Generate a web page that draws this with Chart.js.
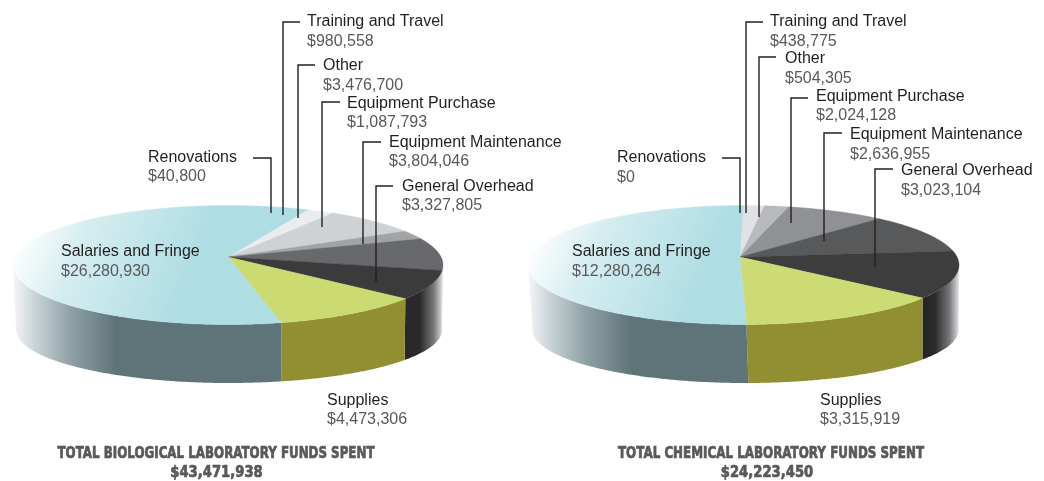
<!DOCTYPE html>
<html><head><meta charset="utf-8">
<script src="https://cdn.jsdelivr.net/npm/chart.js@4"></script>
<style>
html,body{margin:0;padding:0;background:#fff;width:1044px;height:481px;overflow:hidden}
canvas{position:absolute;top:0;left:0}
</style></head><body>
<canvas id="bio" width="1044" height="481"></canvas>
<canvas id="chem" width="1044" height="481"></canvas>
<script>
const categories = ["Renovations","Training and Travel","Other","Equipment Purchase","Equipment Maintenance","General Overhead","Supplies","Salaries and Fringe"];
const biologicalValues = [40800,980558,3476700,1087793,3804046,3327805,4473306,26280930];
const chemicalValues = [0,438775,504305,2024128,2636955,3023104,3315919,12280264];
const biologicalTitle = ["TOTAL BIOLOGICAL LABORATORY FUNDS SPENT","$43,471,938"];
const chemicalTitle = ["TOTAL CHEMICAL LABORATORY FUNDS SPENT","$24,223,450"];
const biologicalTop = ["#e6eef1","#eaecee","#cfd2d5","#a1a3a6","#68696c","#3b3b3c","#ccda72","#aedde4"];
const chemicalTop = ["#e1e2e4","#e1e2e4","#b8babd","#8f9194","#58595b","#3d3d3d","#ccdb74","#aedde4"];

const layoutBio = {
  rotation:25, apex:[228,257], top:[228,265,215,59.5], bottom:[229,330,213,53],
  labels:[[148,158,177],[307,22,42],[323,66,86],[347,104,123],[389,143,162],[402,187,206],[327,401,420],[61,252,272]],
  leaders:[[253,158,271,213],[300,22,283,215],[315,65,298,218],[340,102,322,227],[381,142,363,244],[393,186,376,282]],
  title:[216,454,473,317,216.5], black:[390,420,443]
};
const layoutChem = {
  rotation:1, apex:[740,257], top:[743.5,265,215.5,59.5], bottom:[745.5,330,213,53],
  labels:[[617,158,178],[770,22,42],[785,59,79],[816,97,116],[850,135,155],[901,171,191],[820,401,420],[572,252,272]],
  leaders:[[722,158,740,213],[763,22,746,213],[776,57,759,217],[808,98,791,223],[842,133,824,241],[893,169,875,267]],
  title:[771,454,473,306,767], black:[923,935,959]
};

function money(v){return "$"+v.toLocaleString("en-US");}

function rimT(L,ang){
  const [ax,ay]=L.apex,[ex,ey,a,b]=L.top;
  const dx=a*Math.cos(ang),dy=b*Math.sin(ang);
  const ox=(ax-ex)/a,oy=(ay-ey)/b,px=dx/a,py=dy/b;
  const A=px*px+py*py,B=2*(ox*px+oy*py),C=ox*ox+oy*oy-1;
  const s=(-B+Math.sqrt(B*B-4*A*C))/(2*A);
  return Math.atan2(oy+py*s,ox+px*s);
}

function piePlugin(L,values,colors,title){
  return {
    id:"pie3d",
    beforeDatasetsDraw(chart){
      const ctx=chart.ctx, arcs=chart.getDatasetMeta(0).data;
      const [ex,ey,a,b]=L.top,[bx,by,a2,b2]=L.bottom;
      ctx.save();
      const P=t=>[ex+a*Math.cos(t),ey+b*Math.sin(t)];
      const Q=t=>[bx+a2*Math.cos(t),by+b2*Math.sin(t)];
      const leftX=ex-a;
      const salGrad=ctx.createLinearGradient(leftX+2,0,leftX+103,0);
      salGrad.addColorStop(0,"#f1f3f4");
      salGrad.addColorStop(.2,"#c9d3d7");
      salGrad.addColorStop(.55,"#8fa1a6");
      salGrad.addColorStop(1,"#5f7479");
      const [b0,b1,b2x]=L.black;
      const darkGrad=ctx.createLinearGradient(b0,0,b2x,0);
      const mid=(b1-b0)/(b2x-b0);
      darkGrad.addColorStop(0,"#272425");
      darkGrad.addColorStop(mid,"#2c2a2b");
      darkGrad.addColorStop(mid+(1-mid)*.6,"#77787a");
      darkGrad.addColorStop(1,"#e2e3e5");
      const wall=i=>i===7?salGrad:i===6?"#918f32":darkGrad;
      const TAU=2*Math.PI;
      const span=arc=>{
        let t0=rimT(L,arc.startAngle);
        t0=(t0%TAU+TAU)%TAU;
        let t1=rimT(L,arc.endAngle);
        while(t1<t0)t1+=TAU;
        return [t0,t1];
      };
      // side wall: only the part of each slice on the front half of the rim
      arcs.forEach((arc,i)=>{
        if(values[i]===0) return;
        const [t0,t1]=span(arc);
        [[0,Math.PI],[TAU,TAU+Math.PI]].forEach(([lo,hi])=>{
          const s=Math.max(t0,lo),e=Math.min(t1,hi);
          if(e<=s) return;
          const n=Math.max(2,Math.ceil((e-s)/0.01));
          ctx.beginPath();
          for(let k=0;k<=n;k++){const p=P(s+(e-s)*k/n);k?ctx.lineTo(p[0],p[1]):ctx.moveTo(p[0],p[1]);}
          for(let k=n;k>=0;k--){const p=Q(s+(e-s)*k/n);ctx.lineTo(p[0],p[1]);}
          ctx.closePath();
          ctx.fillStyle=wall(i);ctx.fill();
        });
      });
      // top surface
      const topGrad=ctx.createLinearGradient(leftX+2,242,leftX+165,310);
      topGrad.addColorStop(0,"#ffffff");
      topGrad.addColorStop(.35,"#d5edf0");
      topGrad.addColorStop(1,colors[7]);
      arcs.forEach((arc,i)=>{
        if(values[i]===0) return;
        const [t0,t1]=span(arc);
        const n=Math.max(2,Math.ceil((t1-t0)/0.01));
        ctx.beginPath();
        ctx.moveTo(L.apex[0],L.apex[1]);
        for(let k=0;k<=n;k++){const p=P(t0+(t1-t0)*k/n);ctx.lineTo(p[0],p[1]);}
        ctx.closePath();
        const fill=i===7?topGrad:colors[i];
        ctx.fillStyle=fill;ctx.fill();
        ctx.strokeStyle=fill;ctx.lineWidth=.4;ctx.stroke();
      });
      // leaders
      ctx.strokeStyle="#231f20";ctx.lineWidth=1.4;ctx.lineJoin="miter";
      L.leaders.forEach(l=>{
        ctx.beginPath();ctx.moveTo(l[0],l[1]);ctx.lineTo(l[2],l[1]);ctx.lineTo(l[2],l[3]);ctx.stroke();
      });
      // labels
      ctx.textBaseline="middle";ctx.textAlign="left";
      ctx.font='16px "Liberation Sans", Arial, sans-serif';
      categories.forEach((c,i)=>{
        const l=L.labels[i];
        ctx.fillStyle="#231f20";ctx.fillText(c,l[0],l[1]);
        ctx.fillStyle="#58595b";ctx.fillText(money(values[i]),l[0],l[2]);
      });
      // titles
      ctx.textAlign="center";ctx.fillStyle="#58595b";ctx.strokeStyle="#58595b";ctx.lineWidth=.7;
      ctx.font='bold 15px "DejaVu Sans", sans-serif';
      ctx.fillText(title[0],L.title[0],L.title[1],L.title[3]);
      ctx.strokeText(title[0],L.title[0],L.title[1],L.title[3]);
      ctx.fillText(title[1],L.title[4],L.title[2],title[1].length*8.4);
      ctx.strokeText(title[1],L.title[4],L.title[2],title[1].length*8.4);
      ctx.restore();
      return false;
    }
  };
}

function build(id,L,values,colors,title){
  new Chart(document.getElementById(id),{
    type:"pie",
    data:{labels:categories,datasets:[{data:values,backgroundColor:colors,borderWidth:0}]},
    options:{responsive:false,animation:false,rotation:L.rotation,
      plugins:{legend:{display:false},tooltip:{enabled:false},title:{display:false}}},
    plugins:[piePlugin(L,values,colors,title)]
  });
}
build("bio",layoutBio,biologicalValues,biologicalTop,biologicalTitle);
build("chem",layoutChem,chemicalValues,chemicalTop,chemicalTitle);
</script>
</body></html>
